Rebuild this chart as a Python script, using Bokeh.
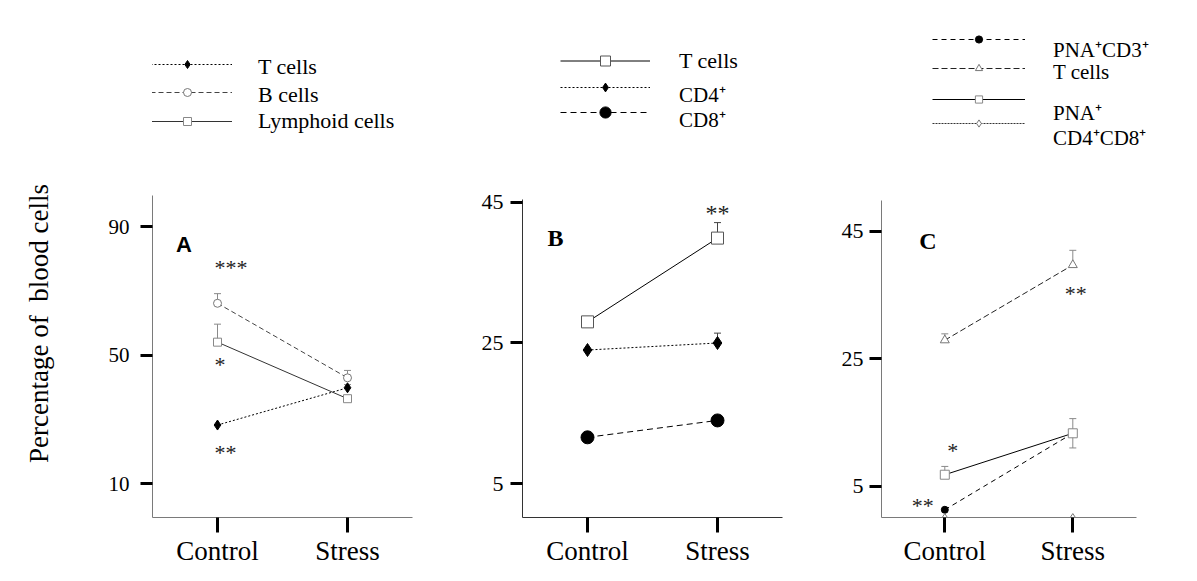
import math
from bokeh.plotting import figure
from bokeh.layouts import row
from bokeh.models import (Range1d, FactorRange, FixedTicker, Legend, LegendItem, Label,
                          Whisker, TeeHead, ColumnDataSource)
from bokeh.core.properties import value
from bokeh.embed import file_html
from bokeh.resources import INLINE

# ---------------- data ----------------
groups = ["Control", "Stress"]

# Panel A
a_t_cells = [28.2, 39.8]
a_t_cells_err = [0.0, 1.0]
a_b_cells = [66.1, 42.9]
a_b_cells_err = [3.0, 2.3]
a_lymphoid = [54.0, 36.4]
a_lymphoid_err = [5.6, 0.0]
a_ticks = [10, 50, 90]
a_sig_text = ["***", "*", "**"]
a_sig_y = [78.0, 47.8, 20.4]

# Panel B
b_t_cells = [28.0, 39.9]
b_t_cells_err = [0.0, 2.2]
b_cd4 = [24.0, 25.0]
b_cd4_err = [0.0, 1.4]
b_cd8 = [11.6, 14.0]
b_ticks = [5, 25, 45]
b_sig_text = ["**"]
b_sig_y = [43.7]

# Panel C
c_pna_cd3 = [1.3, 13.3]
c_t_cells = [27.9, 39.7]
c_t_cells_err = [1.0, 2.3]
c_pna = [6.8, 13.3]
c_pna_err_up = [1.3, 2.3]
c_pna_err_down = [0.0, 2.3]
c_cd4cd8 = [0.0, 0.0]
c_ticks = [5, 25, 45]
c_sig_stress_text = ["**"]
c_sig_stress_y = [35.6]
c_sig_ctrl_text = ["*"]
c_sig_ctrl_y = [10.9]
c_sig_low_text = ["**"]
c_sig_low_y = [2.3]

y_title = "Percentage of\u00a0 blood cells"

SERIF = "Liberation Serif"
SANS = "Liberation Sans"
H = 578
TOP = 10        # frame top (page px)
FB = 517        # frame bottom (page px)


def style_fig(p, ticks, y0, bound_top, axis_color, label_size, standoff):
    p.xgrid.visible = False
    p.ygrid.visible = False
    p.outline_line_color = None
    p.background_fill_color = "white"
    p.border_fill_color = "white"
    for ax in (p.xaxis[0], p.yaxis[0]):
        ax.axis_line_color = axis_color
        ax.axis_line_width = 1
        ax.major_tick_line_color = "black"
        ax.major_tick_line_width = 3
        ax.major_tick_in = 0
        ax.minor_tick_line_color = None
        ax.major_label_text_font = SERIF
        ax.major_label_text_color = "black"
    p.yaxis.ticker = FixedTicker(ticks=ticks)
    p.yaxis.bounds = (y0, bound_top)
    p.yaxis.major_tick_out = 12
    p.yaxis.major_label_text_font_size = label_size
    p.yaxis.major_label_standoff = standoff
    p.xaxis.major_tick_out = 15
    p.xaxis.major_label_text_font_size = "27px"
    p.xaxis.major_label_standoff = 3


def make_fig(width, bl, br, x_range, y0, y1):
    return figure(width=width, height=H, x_range=x_range, y_range=Range1d(y0, y1),
                  output_backend="svg", toolbar_location=None,
                  min_border_left=bl, min_border_right=br, min_border_top=TOP,
                  min_border_bottom=H - FB)


def add_errors(p, xs, vals, up, down, color):
    keep = [(g, v, e1, e2) for g, v, e1, e2 in zip(xs, vals, up, down) if e1 > 0 or e2 > 0]
    if not keep:
        return
    src = ColumnDataSource(dict(x=[k[0] for k in keep],
                                lower=[k[1] - k[3] for k in keep],
                                upper=[k[1] + k[2] for k in keep]))
    has_low = any(k[3] > 0 for k in keep)
    w = Whisker(base="x", lower="lower", upper="upper", source=src, dimension="height",
                line_color=color, line_width=1, level="underlay",
                upper_head=TeeHead(size=7, line_color=color, line_width=1),
                lower_head=TeeHead(size=7, line_color=color, line_width=1) if has_low else None)
    p.add_layout(w)


def add_key(p, renderers, label, frame_left, x0, x1, label_x, line_y, label_y, g, size):
    # sample (line + marker)
    p.add_layout(Legend(items=[LegendItem(label=" ", renderers=renderers)],
                        location=(x0 - frame_left, FB - (line_y + g / 2)),
                        glyph_width=int(x1 - x0), glyph_height=int(g), label_height=int(g),
                        label_width=1, label_standoff=0, padding=0, margin=0, spacing=0,
                        border_line_color=None, background_fill_alpha=0,
                        label_text_font_size="1px"))
    # text of the key
    p.add_layout(Legend(items=[LegendItem(label=label, renderers=[renderers[0]])],
                        location=(label_x - frame_left, FB - (label_y + 15)),
                        glyph_width=0, glyph_height=30, label_height=30,
                        label_standoff=0, padding=0, margin=0, spacing=0,
                        border_line_color=None, background_fill_alpha=0,
                        label_text_font=SERIF, label_text_font_size=size,
                        label_text_color="black"))


def add_sig(p, xs, ys, texts, align, dx, size):
    p.text(x=xs, y=ys, text=texts, text_align=align, text_baseline="middle",
           x_offset=dx, y_offset=2, text_font=value(SERIF), text_font_size=size,
           text_color="#222222")


# ---------------- y title strip ----------------
pT = figure(width=76, height=H, x_range=Range1d(0, 76), y_range=Range1d(0, 1),
            output_backend="svg", toolbar_location=None,
            min_border_left=0, min_border_right=0, min_border_top=TOP,
            min_border_bottom=H - FB)
pT.axis.visible = False
pT.grid.visible = False
pT.outline_line_color = None
pT.add_layout(Label(x=38, y=FB - 323, x_units="screen", y_units="screen",
                    text=y_title, angle=math.pi / 2,
                    text_align="center", text_baseline="middle", text_font=SERIF,
                    text_font_size="27px", text_color="black"))

# ---------------- Panel A ----------------
pA = make_fig(394, 76, 58, FactorRange(*groups), -0.58, 157.24)
style_fig(pA, a_ticks, -0.58, 99.65, "#7a7a7a", "21px", 11)
add_errors(pA, groups, a_b_cells, a_b_cells_err, [0, 0], "#8a8a8a")
add_errors(pA, groups, a_lymphoid, a_lymphoid_err, [0, 0], "#8a8a8a")
add_errors(pA, groups, a_t_cells, a_t_cells_err, [0, 0], "#8a8a8a")
lA1 = pA.line(groups, a_t_cells, line_color="black", line_width=1, line_dash="2 2")
lA2 = pA.line(groups, a_b_cells, line_color="#444444", line_width=1, line_dash="5 3")
lA3 = pA.line(groups, a_lymphoid, line_color="#333333", line_width=1)
mA1 = pA.scatter(groups, a_t_cells, marker="diamond", size=10, fill_color="black", line_color="black")
mA2 = pA.scatter(groups, a_b_cells, marker="circle", size=8, fill_color="white", line_color="#777777")
mA3 = pA.scatter(groups, a_lymphoid, marker="square", size=8, fill_color="white", line_color="#888888")
add_sig(pA, [groups[0]] * len(a_sig_text), a_sig_y, a_sig_text, "left", -3, "22px")
add_key(pA, [lA1, mA1], "T cells", 152, 142, 232, 258, 64.3, 66.7, 20, "22px")
add_key(pA, [lA2, mA2], "B cells", 152, 142, 232, 258, 92.3, 95.0, 20, "22px")
add_key(pA, [lA3, mA3], "Lymphoid cells", 152, 142, 232, 258, 120.7, 121.0, 20, "22px")
pA.add_layout(Label(x=31.5, y=FB - 244, x_units="screen", y_units="screen", text="A",
                    text_align="center", text_baseline="middle", text_font=SANS,
                    text_font_style="bold", text_font_size="22px", text_color="black"))

# ---------------- Panel B ----------------
pB = make_fig(365, 52, 53, FactorRange(*groups), 0.21, 72.23)
style_fig(pB, b_ticks, 0.21, 45.38, "#333333", "22px", 7)
add_errors(pB, groups, b_t_cells, b_t_cells_err, [0, 0], "#444444")
add_errors(pB, groups, b_cd4, b_cd4_err, [0, 0], "#444444")
lB1 = pB.line(groups, b_t_cells, line_color="black", line_width=1)
lB2 = pB.line(groups, b_cd4, line_color="black", line_width=1, line_dash="2 2")
lB3 = pB.line(groups, b_cd8, line_color="black", line_width=1, line_dash="6 4")
mB1 = pB.scatter(groups, b_t_cells, marker="square", size=12, fill_color="white", line_color="#555555")
mB2 = pB.scatter(groups, b_cd4, marker="diamond", size=13, fill_color="black", line_color="black")
mB3 = pB.scatter(groups, b_cd8, marker="circle", size=13, fill_color="black", line_color="black")
add_sig(pB, [groups[1]], b_sig_y, b_sig_text, "center", 0, "24px")
add_key(pB, [lB1, mB1], "T cells", 522, 560, 650, 679, 60.7, 60.8, 25, "22px")
add_key(pB, [lB2, mB2], "CD4\u207a", 522, 560, 650, 679, 87.3, 93.5, 22, "21px")
add_key(pB, [lB3, mB3], "CD8\u207a", 522, 560, 650, 679, 111.7, 118.5, 28, "21px")
pB.add_layout(Label(x=33, y=FB - 237, x_units="screen", y_units="screen", text="B",
                    text_align="center", text_baseline="middle", text_font=SERIF,
                    text_font_style="bold", text_font_size="24px", text_color="black"))

# ---------------- Panel C ----------------
c_x = list(range(len(groups)))
pC = make_fig(355, 46, 0, Range1d(-0.4945, 1.9195), 0.09, 79.62)
style_fig(pC, c_ticks, 0.09, 49.8, "#7a7a7a", "22px", 6)
pC.xaxis.ticker = FixedTicker(ticks=c_x)
pC.xaxis.major_label_overrides = {i: g for i, g in zip(c_x, groups)}
pC.xaxis.bounds = (-0.4945, 1.4977)
add_errors(pC, c_x, c_t_cells, c_t_cells_err, [0, 0], "#8a8a8a")
add_errors(pC, c_x, c_pna, c_pna_err_up, c_pna_err_down, "#8a8a8a")
lC1 = pC.line(c_x, c_pna_cd3, line_color="black", line_width=1, line_dash="5 4")
lC2 = pC.line(c_x, c_t_cells, line_color="#222222", line_width=1, line_dash="6 3")
lC4 = pC.line(c_x, c_cd4cd8, line_color="#333333", line_width=1, line_dash="2 1")
mC1 = pC.scatter(c_x, c_pna_cd3, marker="circle", size=7, fill_color="black", line_color="black")
lC3 = pC.line(c_x, c_pna, line_color="black", line_width=1)
mC2 = pC.scatter(c_x, c_t_cells, marker="triangle", size=9, fill_color="white", line_color="#777777")
mC3 = pC.scatter(c_x, c_pna, marker="square", size=9, fill_color="white", line_color="#888888")
mC4 = pC.scatter(c_x, c_cd4cd8, marker="diamond", size=9, fill_color="white", line_color="#777777")
add_sig(pC, [c_x[1]], c_sig_stress_y, c_sig_stress_text, "center", 3, "22px")
add_sig(pC, [c_x[0]], c_sig_ctrl_y, c_sig_ctrl_text, "center", 8, "22px")
add_sig(pC, [c_x[0]], c_sig_low_y, c_sig_low_text, "center", -22, "22px")
add_key(pC, [lC1, mC1], "PNA\u207aCD3\u207a", 881, 932, 1025, 1053, 39.3, 49.0, 18, "21px")
add_key(pC, [lC2, mC2], "T cells", 881, 932, 1025, 1053, 68.3, 72.4, 18, "21px")
add_key(pC, [lC3, mC3], "PNA\u207a", 881, 932, 1025, 1053, 99.0, 112.0, 18, "21px")
add_key(pC, [lC4, mC4], "CD4\u207aCD8\u207a", 881, 932, 1025, 1053, 123.3, 137.0, 18, "21px")
pC.add_layout(Label(x=46.5, y=FB - 240, x_units="screen", y_units="screen", text="C",
                    text_align="center", text_baseline="middle", text_font=SERIF,
                    text_font_style="bold", text_font_size="24px", text_color="black"))

layout = row(pT, pA, pB, pC)
open("out.html", "w").write(file_html(layout, INLINE))
